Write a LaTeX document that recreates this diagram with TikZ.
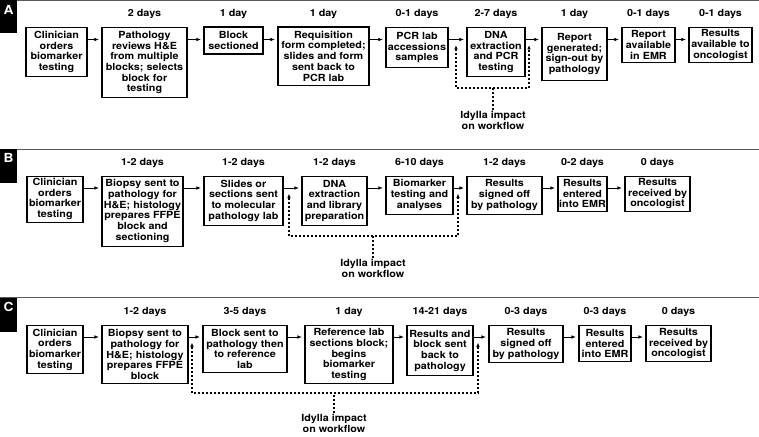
\documentclass[tikz,border=0pt]{standalone}
\usepackage{fontspec}
\setmainfont{TeX Gyre Heros}[FakeStretch=1.1]
\usetikzlibrary{arrows.meta,positioning}

\tikzset{
	stepbox/.style={draw, line width=1.1pt, anchor=north, align=center, inner sep=1pt, font=\bfseries\fontsize{9.8pt}{10.7pt}\selectfont},
	daylabel/.style={inner sep=0pt, font=\bfseries\fontsize{9.8pt}{10.7pt}\selectfont},
	idlabel/.style={align=center, inner sep=1.5pt, font=\bfseries\fontsize{9.8pt}{10.7pt}\selectfont},
	flow/.style={line width=0.8pt, -{Latex[length=4.5pt,width=3.6pt]}, shorten >=2.5pt},
	impact/.style={line width=1.1pt, dash pattern=on 2pt off 2pt},
	impacttips/.style={{Latex[length=4.5pt,width=3.6pt]}-{Latex[length=4.5pt,width=3.6pt]}},
	panelbar/.style={fill=black, anchor=north west, inner sep=0pt, minimum width=16.5pt, minimum height=33pt},
	panelletter/.style={text=white, inner sep=0pt, font=\bfseries\fontsize{12.5pt}{12.5pt}\selectfont},
	sepline/.style={draw=black!65, line width=0.8pt}
}

\begin{document}
\begin{tikzpicture}[x=1pt,y=1pt,yscale=-1]
	\useasboundingbox (0,0) rectangle (759,436);

	%Panel rules and letters
	\draw[sepline] (0,0.6) -- (759,0.6);
	\draw[sepline] (0,149) -- (759,149);
	\draw[sepline] (0,297.5) -- (759,297.5);
	\node[panelbar] (barA) at (0,0) {};
	\node[panelbar, minimum height=34pt] (barB) at (0,149) {};
	\node[panelbar, minimum height=34pt] (barC) at (0,297.5) {};
	\node[panelletter] (letA) at (8.7,10) {A};
	\node[panelletter] (letB) at (8.5,157.5) {B};
	\node[panelletter] (letC) at (8.5,306.5) {C};

	%Rows of the three panels
	\coordinate (dayA) at (0,14);
	\coordinate (rowA) at (0,39.5);
	\coordinate (dayB) at (0,163);
	\coordinate (rowB) at (0,188);
	\coordinate (dayC) at (0,311.5);
	\coordinate (rowC) at (0,337);

	%Panel A: boxes
	\node[stepbox, minimum width=61pt, minimum height=49pt] (a1) at (56.5,27) {Clinician\\orders\\biomarker\\testing};
	\node[stepbox, minimum width=85pt, minimum height=70pt] (a2) at (144.5,27) {Pathology\\reviews H\&E\\from multiple\\blocks; selects\\block for\\testing};
	\node[stepbox, minimum width=59pt, minimum height=27pt] (a3) at (233.5,26.5) {Block\\sectioned};
	\node[stepbox, minimum width=91pt, minimum height=58pt] (a4) at (323.5,26.5) {Requisition\\form completed;\\slides and form\\sent back to\\PCR lab};
	\node[stepbox, minimum width=62pt, minimum height=40pt] (a5) at (417,27) {PCR lab\\accessions\\samples};
	\node[stepbox, minimum width=58pt, minimum height=49pt] (a6) at (496,27) {DNA\\extraction\\and PCR\\testing};
	\node[stepbox, minimum width=65pt, minimum height=53pt] (a7) at (574.5,27) {Report\\generated;\\sign-out by\\pathology};
	\node[stepbox, minimum width=53pt, minimum height=35pt] (a8) at (648.5,27) {Report\\available\\in EMR};
	\node[stepbox, minimum width=63pt, minimum height=35pt] (a9) at (720.5,27) {Results\\available to\\oncologist};

	%Panel A: durations
	\node[daylabel] (da2) at (a2.north |- dayA) {2 days};
	\node[daylabel] (da3) at (a3.north |- dayA) {1 day};
	\node[daylabel] (da4) at (a4.north |- dayA) {1 day};
	\node[daylabel] (da5) at (a5.north |- dayA) {0-1 days};
	\node[daylabel] (da6) at (a6.north |- dayA) {2-7 days};
	\node[daylabel] (da7) at (a7.north |- dayA) {1 day};
	\node[daylabel] (da8) at (a8.north |- dayA) {0-1 days};
	\node[daylabel] (da9) at (a9.north |- dayA) {0-1 days};

	%Panel A: arrows
	\draw[flow] (a1.east |- rowA) -- (a2.west |- rowA);
	\draw[flow] (a2.east |- rowA) -- (a3.west |- rowA);
	\draw[flow] (a3.east |- rowA) -- (a4.west |- rowA);
	\draw[flow] (a4.east |- rowA) -- (a5.west |- rowA);
	\draw[flow] (a5.east |- rowA) -- (a6.west |- rowA);
	\draw[flow] (a6.east |- rowA) -- (a7.west |- rowA);
	\draw[flow] (a7.east |- rowA) -- (a8.west |- rowA);
	\draw[flow] (a8.east |- rowA) -- (a9.west |- rowA);

	%Panel A: Idylla bracket
	\node[idlabel] (idA) at (493,120.5) {Idylla impact\\on workflow};
	\coordinate (tipA1) at (456,45);
	\coordinate (tipA2) at (529,45);
	\coordinate (botA) at (0,88);
	\draw[impact, impacttips] (tipA1) |- (idA.north |- botA) -| (tipA2);
	\draw[impact] (idA.north) -- (idA.north |- botA);

	%Panel B: boxes
	\node[stepbox, minimum width=56pt, minimum height=46pt] (b1) at (55,175.5) {Clinician\\orders\\biomarker\\testing};
	\node[stepbox, minimum width=81pt, minimum height=70pt] (b2) at (142.5,175.5) {Biopsy sent to\\pathology for\\H\&E; histology\\prepares FFPE\\block and\\sectioning};
	\node[stepbox, minimum width=79pt, minimum height=49pt] (b3) at (243.5,175.5) {Slides or\\sections sent\\to molecular\\pathology lab};
	\node[stepbox, minimum width=65pt, minimum height=49pt] (b4) at (334.5,175.5) {DNA\\extraction\\and library\\preparation};
	\node[stepbox, minimum width=67pt, minimum height=38pt] (b5) at (419.5,175.5) {Biomarker\\testing and\\analyses};
	\node[stepbox, minimum width=75pt, minimum height=38pt] (b6) at (504.5,175.5) {Results\\signed off\\by pathology};
	\node[stepbox, minimum width=49pt, minimum height=35pt] (b7) at (582.5,175.5) {Results\\entered\\into EMR};
	\node[stepbox, minimum width=65pt, minimum height=35pt] (b8) at (657.5,175.5) {Results\\received by\\oncologist};

	%Panel B: durations
	\node[daylabel] (db2) at (b2.north |- dayB) {1-2 days};
	\node[daylabel] (db3) at (b3.north |- dayB) {1-2 days};
	\node[daylabel] (db4) at (b4.north |- dayB) {1-2 days};
	\node[daylabel] (db5) at (b5.north |- dayB) {6-10 days};
	\node[daylabel] (db6) at (b6.north |- dayB) {1-2 days};
	\node[daylabel] (db7) at (b7.north |- dayB) {0-2 days};
	\node[daylabel] (db8) at (b8.north |- dayB) {0 days};

	%Panel B: arrows
	\draw[flow] (b1.east |- rowB) -- (b2.west |- rowB);
	\draw[flow] (b2.east |- rowB) -- (b3.west |- rowB);
	\draw[flow] (b3.east |- rowB) -- (b4.west |- rowB);
	\draw[flow] (b4.east |- rowB) -- (b5.west |- rowB);
	\draw[flow] (b5.east |- rowB) -- (b6.west |- rowB);
	\draw[flow] (b6.east |- rowB) -- (b7.west |- rowB);
	\draw[flow] (b7.east |- rowB) -- (b8.west |- rowB);

	%Panel B: Idylla bracket
	\node[idlabel] (idB) at (373,268.5) {Idylla impact\\on workflow};
	\coordinate (tipB1) at (289,193.5);
	\coordinate (tipB2) at (458,193.5);
	\coordinate (botB) at (0,236);
	\draw[impact, impacttips] (tipB1) |- (idB.north |- botB) -| (tipB2);
	\draw[impact] (idB.north) -- (idB.north |- botB);

	%Panel C: boxes
	\node[stepbox, minimum width=56pt, minimum height=48pt] (c1) at (55,325) {Clinician\\orders\\biomarker\\testing};
	\node[stepbox, minimum width=86pt, minimum height=58pt] (c2) at (145,325) {Biopsy sent to\\pathology for\\H\&E; histology\\prepares FFPE\\block};
	\node[stepbox, minimum width=84pt, minimum height=47pt] (c3) at (245,325) {Block sent to\\pathology then\\to reference\\lab};
	\node[stepbox, minimum width=88pt, minimum height=58pt] (c4) at (349,325) {Reference lab\\sections block;\\begins\\biomarker\\testing};
	\node[stepbox, minimum width=66pt, minimum height=50pt] (c5) at (440,325) {Results and\\block sent\\back to\\pathology};
	\node[stepbox, minimum width=74pt, minimum height=37pt] (c6) at (526,325) {Results\\signed off\\by pathology};
	\node[stepbox, minimum width=52pt, minimum height=36pt] (c7) at (605,325) {Results\\entered\\into EMR};
	\node[stepbox, minimum width=65pt, minimum height=36pt] (c8) at (678.5,325) {Results\\received by\\oncologist};

	%Panel C: durations
	\node[daylabel] (dc2) at (c2.north |- dayC) {1-2 days};
	\node[daylabel] (dc3) at (c3.north |- dayC) {3-5 days};
	\node[daylabel] (dc4) at (c4.north |- dayC) {1 day};
	\node[daylabel] (dc5) at (c5.north |- dayC) {14-21 days};
	\node[daylabel] (dc6) at (c6.north |- dayC) {0-3 days};
	\node[daylabel] (dc7) at (c7.north |- dayC) {0-3 days};
	\node[daylabel] (dc8) at (c8.north |- dayC) {0 days};

	%Panel C: arrows
	\draw[flow] (c1.east |- rowC) -- (c2.west |- rowC);
	\draw[flow] (c2.east |- rowC) -- (c3.west |- rowC);
	\draw[flow] (c3.east |- rowC) -- (c4.west |- rowC);
	\draw[flow] (c4.east |- rowC) -- (c5.west |- rowC);
	\draw[flow] (c5.east |- rowC) -- (c6.west |- rowC);
	\draw[flow] (c6.east |- rowC) -- (c7.west |- rowC);
	\draw[flow] (c7.east |- rowC) -- (c8.west |- rowC);

	%Panel C: Idylla bracket
	\node[idlabel] (idC) at (334,423.5) {Idylla impact\\on workflow};
	\coordinate (tipC1) at (192,342.5);
	\coordinate (tipC2) at (478,342.5);
	\coordinate (botC) at (0,393);
	\draw[impact, impacttips] (tipC1) |- (idC.north |- botC) -| (tipC2);
	\draw[impact] (idC.north) -- (idC.north |- botC);

\end{tikzpicture}
\end{document}
